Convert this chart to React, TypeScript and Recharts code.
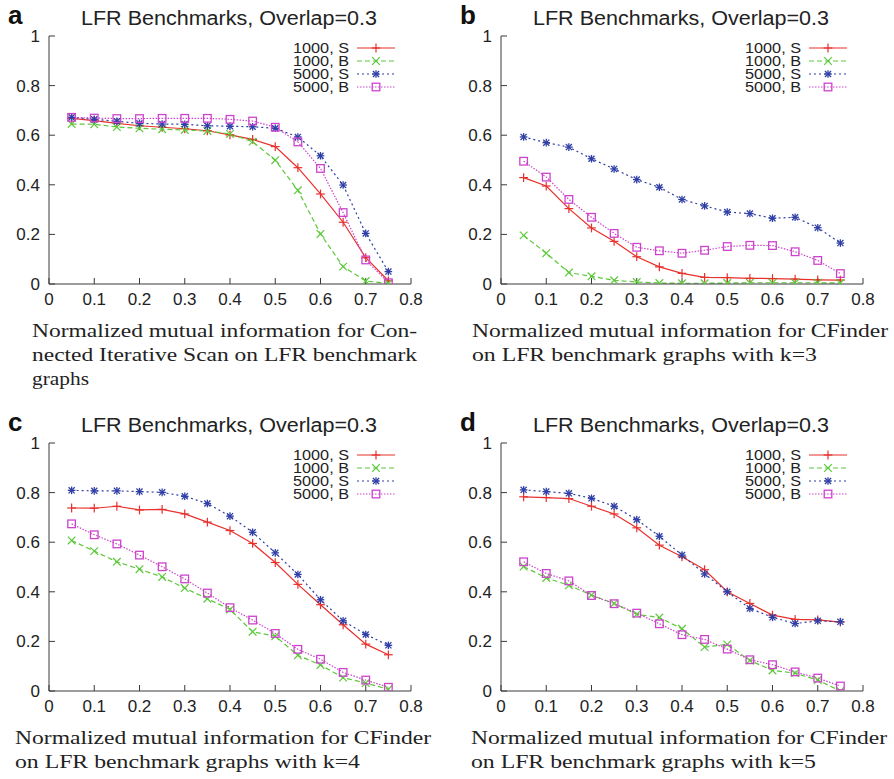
import React from "react";
import { LineChart, Line, XAxis, YAxis, Legend } from "recharts";

// x positions (mixing parameter) shared by every panel
const xs = [0.05, 0.1, 0.15, 0.2, 0.25, 0.3, 0.35, 0.4, 0.45, 0.5, 0.55, 0.6, 0.65, 0.7, 0.75];
const xTicks = [0, 0.1, 0.2, 0.3, 0.4, 0.5, 0.6, 0.7, 0.8];
const yTicks = [0, 0.2, 0.4, 0.6, 0.8, 1];
const seriesNames = ["1000, S", "1000, B", "5000, S", "5000, B"];
const chartTitle = "LFR Benchmarks, Overlap=0.3";

// panel a — Connected Iterative Scan
const a1000S = [0.668, 0.659, 0.648, 0.638, 0.632, 0.626, 0.618, 0.601, 0.583, 0.554, 0.469, 0.363, 0.249, 0.106, 0.013];
const a1000B = [0.645, 0.644, 0.633, 0.628, 0.624, 0.621, 0.617, 0.605, 0.574, 0.499, 0.378, 0.202, 0.07, 0.012, 0.003];
const a5000S = [0.672, 0.664, 0.656, 0.648, 0.645, 0.644, 0.638, 0.636, 0.634, 0.628, 0.593, 0.517, 0.399, 0.204, 0.05];
const a5000B = [0.672, 0.669, 0.667, 0.667, 0.668, 0.668, 0.668, 0.664, 0.657, 0.632, 0.573, 0.466, 0.288, 0.097, 0.005];

// panel b — CFinder k=3
const b1000S = [0.429, 0.395, 0.304, 0.226, 0.172, 0.11, 0.069, 0.043, 0.027, 0.026, 0.023, 0.022, 0.02, 0.017, 0.016];
const b1000B = [0.196, 0.124, 0.046, 0.031, 0.015, 0.008, 0.004, 0.003, 0.003, 0.004, 0.005, 0.005, 0.005, 0.005, 0.004];
const b5000S = [0.593, 0.57, 0.552, 0.505, 0.464, 0.421, 0.39, 0.341, 0.315, 0.29, 0.284, 0.265, 0.269, 0.227, 0.165];
const b5000B = [0.495, 0.431, 0.341, 0.269, 0.204, 0.148, 0.134, 0.124, 0.136, 0.151, 0.156, 0.155, 0.13, 0.095, 0.042];

// panel c — CFinder k=4
const c1000S = [0.738, 0.737, 0.745, 0.73, 0.732, 0.714, 0.681, 0.647, 0.595, 0.518, 0.43, 0.348, 0.267, 0.189, 0.146];
const c1000B = [0.607, 0.564, 0.521, 0.491, 0.46, 0.415, 0.372, 0.329, 0.239, 0.221, 0.144, 0.105, 0.054, 0.032, 0.007];
const c5000S = [0.809, 0.807, 0.807, 0.804, 0.801, 0.785, 0.756, 0.705, 0.64, 0.557, 0.47, 0.368, 0.283, 0.228, 0.184];
const c5000B = [0.674, 0.63, 0.593, 0.548, 0.501, 0.452, 0.395, 0.336, 0.286, 0.232, 0.168, 0.128, 0.075, 0.044, 0.015];

// panel d — CFinder k=5
const d1000S = [0.783, 0.78, 0.776, 0.745, 0.714, 0.658, 0.588, 0.541, 0.489, 0.4, 0.353, 0.306, 0.289, 0.287, 0.278];
const d1000B = [0.502, 0.456, 0.426, 0.387, 0.353, 0.309, 0.296, 0.251, 0.177, 0.188, 0.123, 0.083, 0.072, 0.044, 0.0];
const d5000S = [0.811, 0.804, 0.797, 0.777, 0.745, 0.691, 0.624, 0.548, 0.472, 0.4, 0.333, 0.297, 0.272, 0.283, 0.279];
const d5000B = [0.521, 0.474, 0.444, 0.385, 0.352, 0.314, 0.271, 0.227, 0.208, 0.169, 0.126, 0.106, 0.077, 0.052, 0.02];

const captionA = ["Normalized mutual information for Con-", "nected Iterative Scan on LFR benchmark", "graphs"];
const captionB = ["Normalized mutual information for CFinder", "on LFR benchmark graphs with k=3"];
const captionC = ["Normalized mutual information for CFinder", "on LFR benchmark graphs with k=4"];
const captionD = ["Normalized mutual information for CFinder", "on LFR benchmark graphs with k=5"];

type Kind = "plus" | "cross" | "star" | "square";
const STYLES: { key: string; color: string; dash?: string; kind: Kind }[] = [
  { key: "s1", color: "#e8302c", kind: "plus" },
  { key: "b1", color: "#5cc83a", dash: "5 3", kind: "cross" },
  { key: "s5", color: "#2f3fa6", dash: "2 3", kind: "star" },
  { key: "b5", color: "#cc44cc", dash: "1.5 1.5", kind: "square" },
];

const SANS = "'Liberation Sans', Arial, sans-serif";
const SERIF = "'Liberation Serif', 'Times New Roman', serif";
const INK = "#222";
const FRAME = "#3a3a3a";

const W = 447;
const H = 315;

function Marker({ cx, cy, kind, color }: { cx: number; cy: number; kind: Kind; color: string }) {
  if (cx == null || cy == null) return null;
  const r = 3.8;
  if (kind === "plus")
    return (
      <g stroke={color} strokeWidth={1.2}>
        <line x1={cx - r - 0.6} y1={cy} x2={cx + r + 0.6} y2={cy} />
        <line x1={cx} y1={cy - r - 0.6} x2={cx} y2={cy + r + 0.6} />
      </g>
    );
  if (kind === "cross")
    return (
      <g stroke={color} strokeWidth={1.2}>
        <line x1={cx - r} y1={cy - r} x2={cx + r} y2={cy + r} />
        <line x1={cx - r} y1={cy + r} x2={cx + r} y2={cy - r} />
      </g>
    );
  if (kind === "star")
    return (
      <g stroke={color} strokeWidth={1.3}>
        <line x1={cx - r} y1={cy} x2={cx + r} y2={cy} />
        <line x1={cx} y1={cy - r} x2={cx} y2={cy + r} />
        <line x1={cx - r * 0.8} y1={cy - r * 0.8} x2={cx + r * 0.8} y2={cy + r * 0.8} />
        <line x1={cx - r * 0.8} y1={cy + r * 0.8} x2={cx + r * 0.8} y2={cy - r * 0.8} />
      </g>
    );
  return <rect x={cx - r} y={cy - r} width={r * 2} height={r * 2} fill="none" stroke={color} strokeWidth={1.3} />;
}

function LegendBox() {
  return (
    <svg width={130} height={58} style={{ display: "block" }}>
      {STYLES.map((s, i) => {
        const y = 10 + i * 13;
        return (
          <g key={s.key}>
            <text x={69} y={y} dy="0.35em" textAnchor="end" fontFamily={SANS} fontSize={15} fill={INK}
              textLength={56} lengthAdjust="spacingAndGlyphs">
              {seriesNames[i]}
            </text>
            <line x1={77} y1={y} x2={115} y2={y} stroke={s.color} strokeWidth={1.2} strokeDasharray={s.dash} />
            <Marker cx={96} cy={y} kind={s.kind} color={s.color} />
          </g>
        );
      })}
    </svg>
  );
}

const emptyTick = () => <g />;

function Panel({ series }: { series: number[][] }) {
  const rows = xs.map((x, i) => ({ x, s1: series[0][i], b1: series[1][i], s5: series[2][i], b5: series[3][i] }));
  const tickStyle = { fill: INK, fontSize: 17, fontFamily: SANS };
  return (
    <LineChart width={W} height={H} data={rows} margin={{ top: 36, right: 36, bottom: 0, left: 9 }}>
      <XAxis dataKey="x" type="number" domain={[0, 0.8]} ticks={xTicks} allowDataOverflow height={31}
        tickSize={-6} tickMargin={15} tick={tickStyle} stroke={FRAME} interval={0} />
      <XAxis xAxisId="top" orientation="top" type="number" domain={[0, 0.8]} ticks={xTicks} allowDataOverflow
        height={0} tickSize={-6} tick={emptyTick} stroke={FRAME} interval={0} />
      <YAxis type="number" domain={[0, 1]} ticks={yTicks} allowDataOverflow width={40}
        tickSize={-6} tickMargin={15} tick={tickStyle} stroke={FRAME} interval={0} />
      <YAxis yAxisId="right" orientation="right" type="number" domain={[0, 1]} ticks={yTicks} allowDataOverflow
        width={0} tickSize={-6} tick={emptyTick} stroke={FRAME} interval={0} />
      <Legend layout="horizontal" verticalAlign="middle" align="center" content={() => <LegendBox />}
        wrapperStyle={{ position: "absolute", left: 280, top: 38, width: 130, height: 58 }} />
      {STYLES.map((s, i) => (
        <Line key={s.key} type="linear" dataKey={s.key} name={seriesNames[i]} stroke={s.color} strokeWidth={1.2}
          strokeDasharray={s.dash} isAnimationActive={false} activeDot={false}
          dot={(p: any) => <Marker key={`${s.key}-${p.index}`} cx={p.cx} cy={p.cy} kind={s.kind} color={s.color} />} />
      ))}
    </LineChart>
  );
}

const PANELS = [
  { letter: "a", left: 0, top: 0, series: [a1000S, a1000B, a5000S, a5000B], caption: captionA, capX: 32, widths: [385, 385, 57] },
  { letter: "b", left: 452, top: 0, series: [b1000S, b1000B, b5000S, b5000B], caption: captionB, capX: 472, widths: [416, 345] },
  { letter: "c", left: 0, top: 407, series: [c1000S, c1000B, c5000S, c5000B], caption: captionC, capX: 15, widths: [416, 345] },
  { letter: "d", left: 452, top: 407, series: [d1000S, d1000B, d5000S, d5000B], caption: captionD, capX: 471, widths: [416, 345] },
];

export default function App() {
  return (
    <div style={{ position: "absolute", left: 0, top: 0, width: 894, height: 779, background: "#fff", overflow: "hidden" }}>
      {PANELS.map((p) => (
        <div key={p.letter} style={{ position: "absolute", left: p.left, top: p.top }}>
          <Panel series={p.series} />
        </div>
      ))}
      <svg width={894} height={779} style={{ position: "absolute", left: 0, top: 0, pointerEvents: "none" }}>
        {PANELS.map((p) => (
          <g key={p.letter}>
            <text x={p.left + 8} y={p.top + 24} fontFamily={SANS} fontWeight="bold" fontSize={26} fill="#111">
              {p.letter}
            </text>
            <text x={p.left + 229} y={p.top + 25} textAnchor="middle" fontFamily={SANS} fontSize={20} fill={INK}
              textLength={296} lengthAdjust="spacingAndGlyphs">
              {chartTitle}
            </text>
            {p.caption.map((line, i) => (
              <text key={i} x={p.capX} y={p.top + 337 + i * 24} fontFamily={SERIF} fontSize={18.5} fill={INK}
                textLength={p.widths[i]} lengthAdjust="spacingAndGlyphs">
                {line}
              </text>
            ))}
          </g>
        ))}
      </svg>
    </div>
  );
}
